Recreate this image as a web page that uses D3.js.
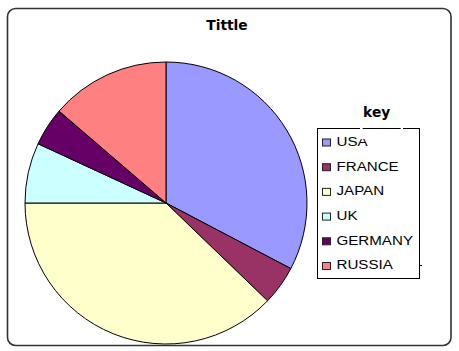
<!DOCTYPE html>
<html>
<head>
<meta charset="utf-8">
<script src="https://cdn.jsdelivr.net/npm/d3@7"></script>
<style>
  html, body { margin: 0; padding: 0; background: #fff; }
  svg { display: block; }
</style>
</head>
<body>
<script>
// Share of each country, in percent
const countries = ["USA", "FRANCE", "JAPAN", "UK", "GERMANY", "RUSSIA"];
const shares = [32.7, 4.5, 37.8, 6.9, 4.4, 13.7];
const sliceColors = ["#9999FF", "#993366", "#FFFFCC", "#CCFFFF", "#660066", "#FF8080"];
const chartTitle = "Tittle";
const legendTitle = "key";

const W = 459, H = 351;
const svg = d3.select("body").append("svg")
  .attr("width", W).attr("height", H);

// Outer frame with rounded corners
svg.append("rect")
  .attr("x", 7.5).attr("y", 8.5)
  .attr("width", 443.5).attr("height", 337)
  .attr("rx", 8).attr("ry", 8)
  .attr("fill", "#fff")
  .attr("stroke", "#333").attr("stroke-width", 1.6);

// Title
svg.append("text")
  .attr("x", 227).attr("y", 30)
  .attr("text-anchor", "middle")
  .attr("font-family", "DejaVu Sans, Verdana, sans-serif")
  .attr("font-weight", "bold")
  .attr("font-size", 13.8)
  .attr("fill", "#000")
  .text(chartTitle);

// Pie
const data = countries.map((c, i) => ({ name: c, value: shares[i] }));
const color = d3.scaleOrdinal().domain(countries).range(sliceColors);
const pie = d3.pie().value(d => d.value).sort(null);
const arc = d3.arc().innerRadius(0).outerRadius(141);

svg.append("g")
  .attr("transform", "translate(166,203)")
  .selectAll("path")
  .data(pie(data))
  .join("path")
  .attr("d", arc)
  .attr("fill", d => color(d.data.name))
  .attr("stroke", "#000")
  .attr("stroke-width", 1)
  .attr("stroke-linejoin", "round");

// Legend
const legend = svg.append("g");
legend.append("rect")
  .attr("x", 317.5).attr("y", 128.5)
  .attr("width", 102).attr("height", 150)
  .attr("fill", "#fff")
  .attr("stroke", "#000").attr("stroke-width", 1);

const rowY = d3.scalePoint().domain(countries).range([145.8, 269.3]);

const rows = legend.selectAll("g.row")
  .data(countries)
  .join("g")
  .attr("class", "row");

rows.append("rect")
  .attr("x", 322.5)
  .attr("y", d => rowY(d) - 6.8)
  .attr("width", 8).attr("height", 7)
  .attr("fill", d => color(d))
  .attr("stroke", "#222").attr("stroke-width", 1);

rows.append("text")
  .attr("transform", d => `translate(336.5,${rowY(d)}) scale(1.13,1)`)
  .attr("font-family", "Liberation Sans, Arial, sans-serif")
  .attr("font-size", 13.4)
  .attr("fill", "#000")
  .text(d => d);

// Legend heading sits on a white patch over the box's top edge
legend.append("rect")
  .attr("x", 360).attr("y", 120)
  .attr("width", 43).attr("height", 19)
  .attr("fill", "#fff");
legend.append("line")
  .attr("x1", 362.7).attr("x2", 400.7)
  .attr("y1", 128.5).attr("y2", 128.5)
  .attr("stroke", "#000").attr("stroke-width", 1);
legend.append("text")
  .attr("x", 376.7).attr("y", 117)
  .attr("text-anchor", "middle")
  .attr("font-family", "DejaVu Sans, Verdana, sans-serif")
  .attr("font-weight", "bold")
  .attr("font-size", 13.8)
  .attr("fill", "#000")
  .text(legendTitle);

// small tick beside the last legend row
legend.append("line")
  .attr("x1", 419.5).attr("x2", 422)
  .attr("y1", 265.5).attr("y2", 265.5)
  .attr("stroke", "#000").attr("stroke-width", 1);
</script>
</body>
</html>
